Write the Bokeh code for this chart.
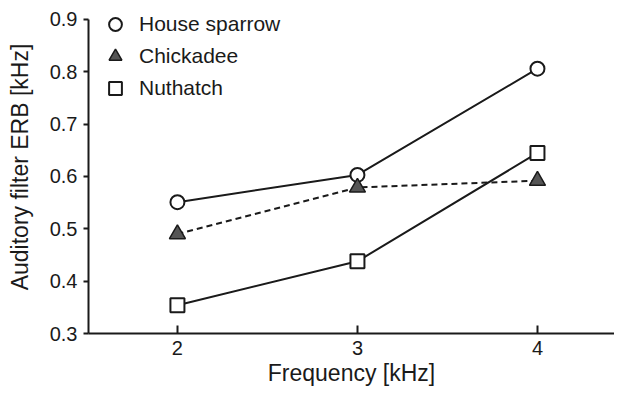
from bokeh.plotting import figure
from bokeh.models import Range1d, FixedTicker, Legend, LegendItem
from bokeh.embed import file_html
from bokeh.resources import INLINE

# ---- data ----
frequency = [2, 3, 4]
house_sparrow = [0.551, 0.603, 0.806]
chickadee = [0.490, 0.579, 0.592]
nuthatch = [0.354, 0.438, 0.645]

x_ticks = [2, 3, 4]
y_ticks = [0.3, 0.4, 0.5, 0.6, 0.7, 0.8, 0.9]
y_tick_labels = ["0.3", "0.4", "0.5", "0.6", "0.7", "0.8", "0.9"]

series_names = ["House sparrow", "Chickadee", "Nuthatch"]

FONT = "Liberation Sans"
INK = "#1a1a1a"

p = figure(width=614, height=390, output_backend="svg", toolbar_location=None,
           x_range=Range1d(1.506, 4.428), y_range=Range1d(0.3, 0.9363),
           min_border_left=88, min_border_right=0, min_border_top=0,
           min_border_bottom=57)
p.outline_line_color = None
p.xgrid.visible = False
p.ygrid.visible = False
p.background_fill_color = "white"
p.border_fill_color = "white"

# lines
p.line(frequency, house_sparrow, line_color=INK, line_width=2)
p.line(frequency, chickadee, line_color=INK, line_width=2, line_dash="6 4")
p.line(frequency, nuthatch, line_color=INK, line_width=2)

# markers
s1 = p.scatter(frequency, house_sparrow, marker="circle", size=14,
               fill_color="white", line_color=INK, line_width=2)
s2 = p.scatter(frequency, chickadee, marker="triangle", size=16,
               fill_color="#555555", line_color=INK, line_width=1.5)
s3 = p.scatter(frequency, nuthatch, marker="square", size=14,
               fill_color="white", line_color=INK, line_width=2)

# axes
xa = p.xaxis[0]
xa.ticker = FixedTicker(ticks=x_ticks)
xa.axis_label = "Frequency [kHz]"
xa.major_tick_in = 8
xa.major_tick_out = 0
xa.minor_tick_line_color = None
xa.major_label_standoff = 7
xa.axis_label_standoff = 2

ya = p.yaxis[0]
ya.ticker = FixedTicker(ticks=y_ticks)
ya.major_label_overrides = {t: l for t, l in zip(y_ticks, y_tick_labels)}
ya.axis_label = "Auditory filter ERB [kHz]"
ya.major_tick_in = 0
ya.major_tick_out = 5
ya.minor_tick_line_color = None
ya.major_label_standoff = 6
ya.axis_label_standoff = 14
ya.bounds = (0.3, 0.9)

for ax in (xa, ya):
    ax.axis_line_width = 2
    ax.axis_line_color = INK
    ax.major_tick_line_width = 2
    ax.major_tick_line_color = INK
    ax.major_label_text_font = FONT
    ax.major_label_text_font_size = "20px"
    ax.major_label_text_color = INK
    ax.axis_label_text_font = FONT
    ax.axis_label_text_font_size = "23px"
    ax.axis_label_text_font_style = "normal"
    ax.axis_label_text_color = INK

legend = Legend(items=[LegendItem(label=series_names[0], renderers=[s1]),
                       LegendItem(label=series_names[1], renderers=[s2]),
                       LegendItem(label=series_names[2], renderers=[s3])],
                location=(11, 229), padding=0, margin=0, spacing=0,
                glyph_width=32, glyph_height=32, label_standoff=8,
                label_text_font=FONT, label_text_font_size="21px",
                label_text_color=INK, background_fill_alpha=0,
                border_line_alpha=0)
p.add_layout(legend, "center")

open("out.html", "w").write(file_html(p, INLINE))
